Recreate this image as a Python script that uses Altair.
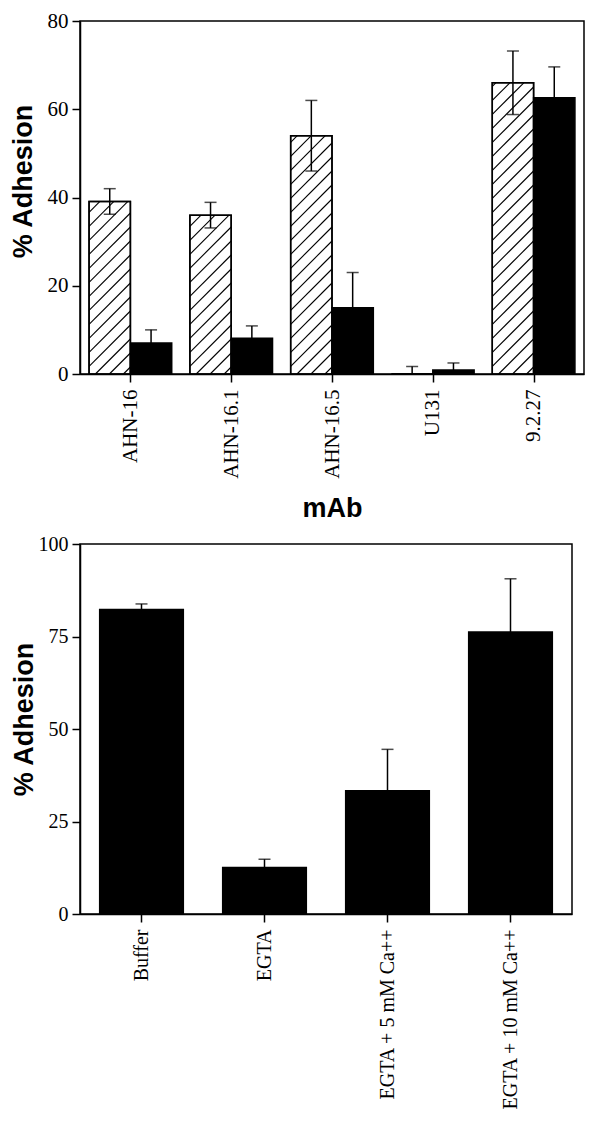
import json
import altair as alt
import pandas as pd

# ---------------- data ----------------
mabs = ["AHN-16", "AHN-16.1", "AHN-16.5", "U131", "9.2.27"]
hatched_vals = [39.1, 36.0, 54.0, 0.0, 66.0]
hatched_err = [2.9, 2.9, 8.0, 1.7, 7.2]
solid_vals = [7.0, 8.1, 15.0, 0.9, 62.6]
solid_err = [3.0, 2.8, 8.0, 1.6, 7.0]
y1_ticks = [0, 20, 40, 60, 80]

treatments = ["Buffer", "EGTA", "EGTA + 5 mM Ca++", "EGTA + 10 mM Ca++"]
treat_vals = [82.3, 12.6, 33.3, 76.2]
treat_err = [1.5, 2.2, 11.2, 14.4]
y2_ticks = [0, 25, 50, 75, 100]

# ---------------- layout / style constants ----------------
W1, H1 = 504, 353
W2, H2 = 492, 370
XMIN, XMAX = 0.5, len(mabs) + 0.5
YMAX1 = y1_ticks[-1]
YMAX2 = y2_ticks[-1]
BAR_W = 0.41
HATCH_STEP = 14.0
SERIF = "Liberation Serif"
SANS = "Liberation Sans"

# ---------------- top chart tables ----------------
bars = []
for i, m in enumerate(mabs):
    pos = i + 1
    bars.append(dict(mab=m, kind="hatched", x0=pos - BAR_W, x1=pos, v=hatched_vals[i],
                     xc=pos - BAR_W / 2, lo=max(0.0, hatched_vals[i] - hatched_err[i]),
                     hi=hatched_vals[i] + hatched_err[i]))
    bars.append(dict(mab=m, kind="solid", x0=pos, x1=pos + BAR_W, v=solid_vals[i],
                     xc=pos + BAR_W / 2, lo=solid_vals[i],
                     hi=solid_vals[i] + solid_err[i]))
bars = pd.DataFrame(bars)
hatched = bars[bars.kind == "hatched"]
solid = bars[bars.kind == "solid"]
low_caps = hatched[hatched.lo > 0]

# hatch lines (fill pattern) derived from the hatched bars
sx = W1 / (XMAX - XMIN)
sy = H1 / YMAX1
hatch_rows = []
for _, r in hatched.iterrows():
    bw = (r.x1 - r.x0) * sx
    top = r.v * sy
    c = -bw + HATCH_STEP * 0.5
    while c < top:
        lo = max(0.0, -c)
        hi = min(bw, top - c)
        if hi > lo:
            hatch_rows.append(dict(hx=r.x0 + lo / sx, hx2=r.x0 + hi / sx,
                                   hy=(lo + c) / sy, hy2=(hi + c) / sy))
        c += HATCH_STEP
hatch = pd.DataFrame(hatch_rows)

xscale1 = alt.Scale(domain=[XMIN, XMAX], nice=False, zero=False)
yscale1 = alt.Scale(domain=[0, YMAX1], nice=False)
xaxis1 = alt.Axis(values=list(range(1, len(mabs) + 1)),
                  labelExpr=f"{json.dumps(mabs)}[datum.value - 1]",
                  labelAngle=270, labelFlush=False, labelOverlap=False, grid=False,
                  labelFont=SERIF, labelFontSize=21, labelPadding=7, tickSize=8,
                  labelLimit=400,
                  title="mAb", titleFont=SANS, titleFontSize=27, titleFontWeight="bold",
                  titlePadding=17)
yaxis1 = alt.Axis(values=y1_ticks, grid=False, labelFont=SERIF, labelFontSize=21,
                  labelPadding=4, tickSize=8, title="% Adhesion", titleFont=SANS,
                  titleFontSize=27, titleFontWeight="bold", titlePadding=10, titleY=160)


def X1(f):
    return alt.X(f, type="quantitative", scale=xscale1, axis=xaxis1)


def Y1(f):
    return alt.Y(f, type="quantitative", scale=yscale1, axis=yaxis1)


hbar = alt.Chart(hatched).mark_rect(fill="white", stroke="black", strokeWidth=1.5).encode(
    x=X1("x0"), x2="x1", y=Y1("v"), y2=alt.datum(0))
hlines = alt.Chart(hatch).mark_rule(color="black", strokeWidth=1.1).encode(
    x=X1("hx"), x2="hx2", y=Y1("hy"), y2="hy2")
houtline = alt.Chart(hatched).mark_rect(fillOpacity=0, stroke="black", strokeWidth=1.5).encode(
    x=X1("x0"), x2="x1", y=Y1("v"), y2=alt.datum(0))
sbar = alt.Chart(solid).mark_rect(fill="black", stroke="black", strokeWidth=1.5).encode(
    x=X1("x0"), x2="x1", y=Y1("v"), y2=alt.datum(0))
ebar = alt.Chart(bars).mark_rule(color="black", strokeWidth=1.5).encode(
    x=X1("xc"), y=Y1("lo"), y2="hi")
ecap = alt.Chart(bars).mark_tick(color="black", orient="horizontal", size=12, thickness=1.5).encode(
    x=X1("xc"), y=Y1("hi"))
lcap = alt.Chart(low_caps).mark_tick(color="black", orient="horizontal", size=12, thickness=1.5).encode(
    x=X1("xc"), y=Y1("lo"))

top = alt.layer(hbar, hlines, houtline, sbar, ebar, ecap, lcap).properties(width=W1, height=H1)

# ---------------- bottom chart ----------------
df2 = pd.DataFrame({"t": treatments, "v": treat_vals,
                    "hi": [v + e for v, e in zip(treat_vals, treat_err)]})
xscale2 = alt.Scale(domain=treatments, paddingInner=0.32, paddingOuter=0.16)
yscale2 = alt.Scale(domain=[0, YMAX2], nice=False)
xaxis2 = alt.Axis(labelAngle=270, labelFont=SERIF, labelFontSize=20, labelPadding=7,
                  tickSize=8, title=None, labelOverlap=False, labelLimit=400)
yaxis2 = alt.Axis(values=y2_ticks, grid=False, labelFont=SERIF, labelFontSize=20,
                  labelPadding=4, tickSize=8, title="% Adhesion", titleFont=SANS,
                  titleFontSize=27, titleFontWeight="bold", titlePadding=0, titleY=175)


def X2():
    return alt.X("t", type="nominal", sort=treatments, scale=xscale2, axis=xaxis2)


def Y2(f):
    return alt.Y(f, type="quantitative", scale=yscale2, axis=yaxis2)


b2 = alt.Chart(df2).mark_bar(fill="black", stroke="black", strokeWidth=1.5).encode(
    x=X2(), y=Y2("v"))
e2 = alt.Chart(df2).mark_rule(color="black", strokeWidth=1.5).encode(
    x=X2(), y=Y2("v"), y2="hi")
c2 = alt.Chart(df2).mark_tick(color="black", orient="horizontal", size=12, thickness=1.5).encode(
    x=X2(), y=Y2("hi"))

bottom = alt.layer(b2, e2, c2).properties(width=W2, height=H2)

chart = alt.concat(top, bottom, columns=1, spacing=11, align="none").properties(
    padding={"left": 0, "top": 1, "right": 0, "bottom": 0}
).configure(background="white").configure_view(
    stroke="black", strokeWidth=1.5
).configure_axis(
    domainColor="black", domainWidth=1.5, tickColor="black", tickWidth=1.5,
    labelColor="black", titleColor="black"
)

chart.save("out.html", embed_options={"renderer": "svg", "actions": False})
